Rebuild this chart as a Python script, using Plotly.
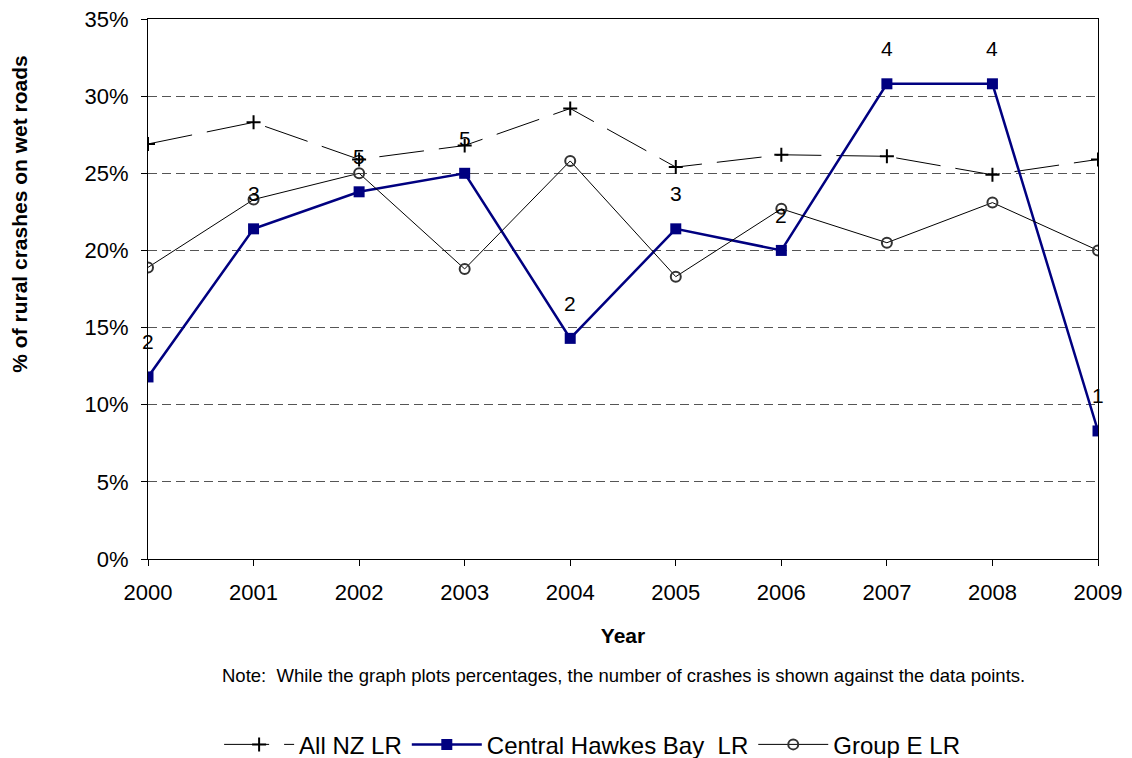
import plotly.graph_objects as go

years = [2000, 2001, 2002, 2003, 2004, 2005, 2006, 2007, 2008, 2009]
all_nz = [26.9, 28.3, 25.9, 26.8, 29.2, 25.4, 26.2, 26.1, 24.9, 25.9]
central_hb = [11.8, 21.4, 23.8, 25.0, 14.3, 21.4, 20.0, 30.8, 30.8, 8.3]
group_e = [18.9, 23.3, 25.0, 18.8, 25.8, 18.3, 22.7, 20.5, 23.1, 20.0]
crash_counts = [2, 3, 5, 5, 2, 3, 2, 4, 4, 1]

font_name = "Liberation Sans, Arial, sans-serif"

fig = go.Figure()
fig.add_trace(go.Scatter(x=years, y=all_nz, mode="lines+markers", name="All NZ LR",
                         line=dict(color="black", width=1, dash="45px,15px"),
                         marker=dict(symbol="cross-thin", size=10, line=dict(color="black", width=2))))
fig.add_trace(go.Scatter(x=years, y=central_hb, mode="lines+markers", name="Central Hawkes Bay  LR",
                         line=dict(color="#000080", width=2.5),
                         marker=dict(symbol="square", size=11, color="#000080")))
fig.add_trace(go.Scatter(x=years, y=group_e, mode="lines+markers", name="Group E LR",
                         line=dict(color="black", width=1),
                         marker=dict(symbol="circle-open", size=10, color="#333333", line=dict(width=2))))

# crash counts shown against the Central Hawkes Bay points
for yr, val, n in zip(years, central_hb, crash_counts):
    fig.add_annotation(x=yr, y=val, text=str(n), showarrow=False, yshift=35,
                       font=dict(size=21, color="black"))

fig.add_annotation(x=0.5, y=-0.215, xref="paper", yref="paper", showarrow=False, yanchor="middle",
                   text="Note:  While the graph plots percentages, the number of crashes is shown against the data points.",
                   font=dict(size=18.5, color="black"))

# y axis title sits above the middle of the plot, like the original
fig.add_annotation(x=-0.135, y=0.639, xref="paper", yref="paper", showarrow=False,
                   xanchor="center", yanchor="middle",
                   text="<b>% of rural crashes on wet roads</b>", textangle=-90,
                   font=dict(size=21, color="black"))

fig.update_layout(
    width=1132, height=758,
    plot_bgcolor="white", paper_bgcolor="white",
    font=dict(family=font_name, size=22, color="black"),
    margin=dict(l=140, r=42, t=11, b=207),
    showlegend=True,
    legend=dict(orientation="h", xref="container", x=0.516, xanchor="center",
                yref="container", y=0.028, yanchor="middle",
                font=dict(size=24), itemwidth=70, traceorder="normal"),
)
fig.update_xaxes(range=[2000, 2009], tickvals=years, ticks="outside", ticklen=6,
                 tickcolor="black", showgrid=False, showline=True, linecolor="black",
                 mirror=True, zeroline=False, ticklabelstandoff=8, ticklabeloverflow="allow",
                 automargin=False,
                 title=dict(text="<b>Year</b>", font=dict(size=21), standoff=23))
fig.update_yaxes(range=[0, 35], tickvals=[0, 5, 10, 15, 20, 25, 30, 35],
                 ticktext=["0%", "5%", "10%", "15%", "20%", "25%", "30%", "35%"],
                 ticks="outside", ticklen=6, tickcolor="black", ticklabelstandoff=8,
                 ticklabeloverflow="allow", automargin=False,
                 showgrid=True, gridcolor="#555555", griddash="9px,5px", gridwidth=1,
                 showline=True, linecolor="black", mirror=True, zeroline=False)

fig.write_html("out.html")
